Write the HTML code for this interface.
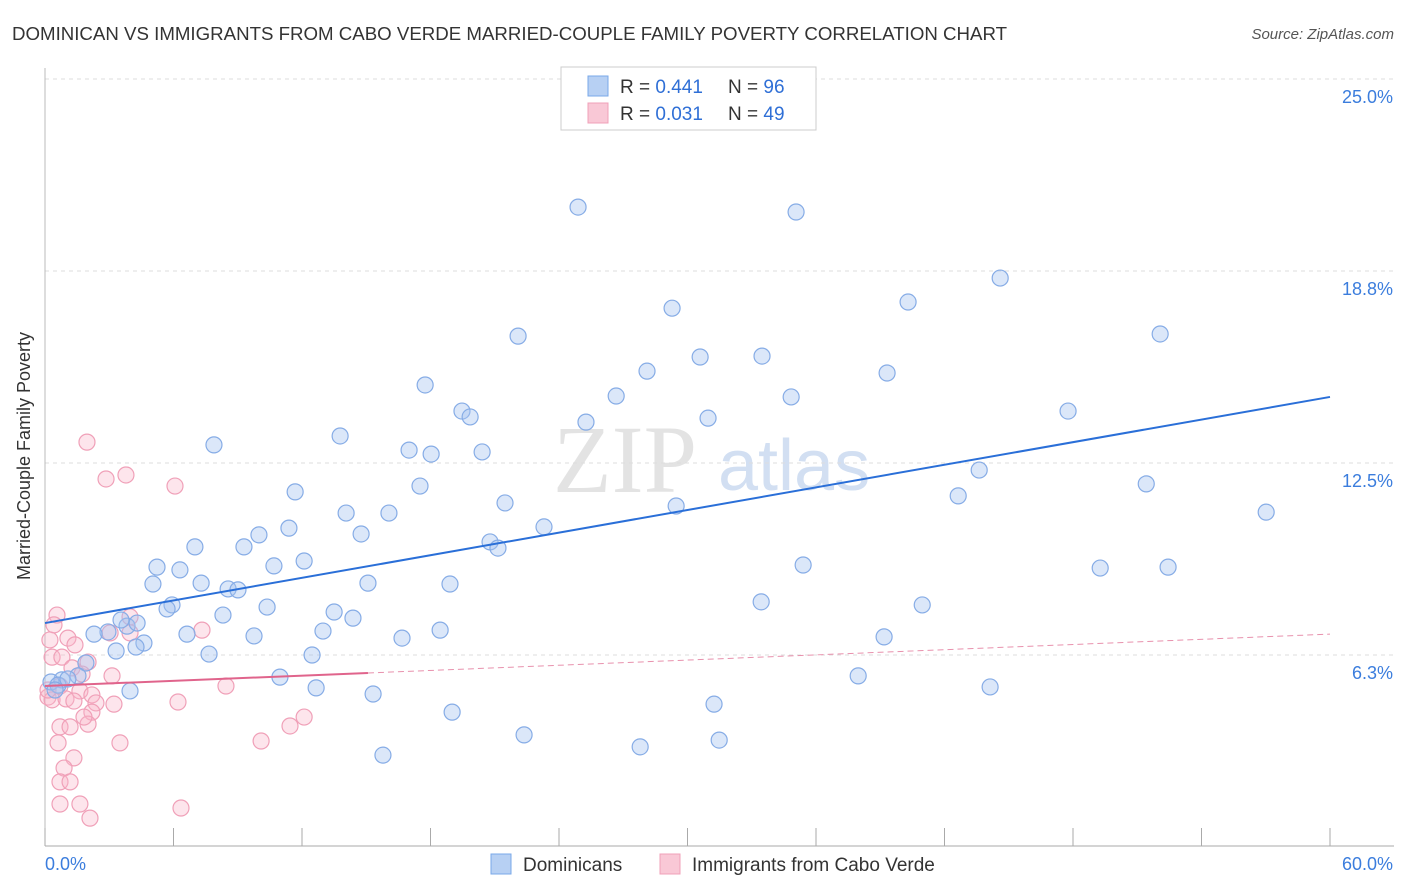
<!DOCTYPE html>
<html><head><meta charset="utf-8">
<style>
body{margin:0;background:#fff;font-family:"Liberation Sans",sans-serif;}
#wrap{position:relative;width:1406px;height:892px;overflow:hidden;}
</style></head><body>
<div id="wrap">
<svg id="svg" width="1406" height="892" xmlns="http://www.w3.org/2000/svg">
<text x="12" y="40" font-size="18" fill="#333" textLength="995" lengthAdjust="spacingAndGlyphs">DOMINICAN VS IMMIGRANTS FROM CABO VERDE MARRIED-COUPLE FAMILY POVERTY CORRELATION CHART</text>
<text x="1394" y="39" font-size="15" fill="#555" font-style="italic" text-anchor="end">Source: ZipAtlas.com</text>
<text x="30" y="456" font-size="18" fill="#333" text-anchor="middle" transform="rotate(-90 30 456)">Married-Couple Family Poverty</text>
<g><text x="553" y="492" font-size="96" fill="#ddd" font-family="Liberation Serif,serif" opacity="0.8">ZIP</text><text x="718" y="490" font-size="72" fill="#c7d8f0" opacity="0.8">atlas</text></g>
<g id="grid"></g><g id="axes"></g><g id="marks"></g>
<g>
<rect x="561" y="67" width="255" height="63" fill="#fff" stroke="#ccc"/>
<rect x="588" y="76" width="20" height="20" fill="#b7d0f3" stroke="#7aa8e8"/>
<text x="620" y="93" font-size="19" fill="#333">R = <tspan fill="#2f6fd6">0.441</tspan></text>
<text x="728" y="93" font-size="19" fill="#333">N = <tspan fill="#2f6fd6">96</tspan></text>
<rect x="588" y="103" width="20" height="20" fill="#f9c8d6" stroke="#f0a0b8"/>
<text x="620" y="120" font-size="19" fill="#333">R = <tspan fill="#2f6fd6">0.031</tspan></text>
<text x="728" y="120" font-size="19" fill="#333">N = <tspan fill="#2f6fd6">49</tspan></text>
</g>
<g>
<rect x="491" y="854" width="20" height="20" fill="#b7d0f3" stroke="#7aa8e8"/>
<text x="523" y="871" font-size="19" fill="#333">Dominicans</text>
<rect x="660" y="854" width="20" height="20" fill="#f9c8d6" stroke="#f0a0b8"/>
<text x="692" y="871" font-size="19" fill="#333">Immigrants from Cabo Verde</text>
</g>
</svg></div>
<script>
const blueX=[24.89,35.07,44.60,40.30,29.28,22.09,52.07,30.59,33.48,28.11,39.32,17.75,26.67,34.84,19.47,19.85,30.96,25.26,47.77,13.78,7.89,17.00,18.03,20.41,11.68,17.51,43.62,42.64,51.42,21.48,29.47,14.06,16.06,11.39,23.30,57.02,14.76,9.99,20.78,21.15,7.00,9.29,5.23,6.30,10.69,12.10,35.40,49.27,52.44,5.04,7.29,8.55,9.01,15.08,18.91,5.93,5.70,10.37,8.31,13.50,14.38,33.44,40.96,3.83,3.55,4.30,2.94,2.29,6.63,9.76,12.98,18.45,16.67,39.18,4.62,4.25,3.32,7.66,12.47,1.91,10.97,37.97,1.54,0.79,0.28,0.61,1.07,3.97,12.66,15.32,44.13,0.47,31.24,19.01,22.37,31.48,27.79,15.78];
const blueY=[20.83,20.67,18.52,17.74,17.54,16.63,16.70,15.95,15.98,15.49,15.43,15.04,14.68,14.65,14.19,14.00,13.96,13.83,14.19,13.38,13.09,12.92,12.79,12.86,11.56,11.75,12.27,11.43,11.82,11.20,11.10,10.87,10.87,10.38,10.42,10.90,10.19,10.16,9.93,9.73,9.77,9.77,9.11,9.02,9.15,9.31,9.18,9.08,9.11,8.56,8.59,8.40,8.37,8.59,8.56,7.88,7.75,7.81,7.55,7.65,7.45,7.98,7.88,7.19,7.39,7.29,7.00,6.93,6.93,6.87,7.03,7.06,6.80,6.84,6.64,6.51,6.38,6.28,6.25,5.99,5.53,5.57,5.57,5.44,5.37,5.27,5.47,5.08,5.18,4.98,5.21,5.11,4.65,4.39,3.65,3.48,3.26,2.99];
const pinkX=[0.56,0.42,3.97,1.07,3.04,3.97,7.33,1.40,0.33,0.79,2.01,1.26,1.73,3.13,0.70,1.63,2.19,0.14,0.33,0.98,1.35,2.38,3.22,8.45,6.21,2.19,2.01,1.82,12.10,11.44,0.70,1.17,3.50,0.61,10.09,1.35,0.89,0.70,1.17,0.70,1.63,2.10,6.35,1.96,2.85,3.78,6.07,0.23,0.14];
const pinkY=[7.55,7.23,7.49,6.80,6.97,6.97,7.06,6.58,6.18,6.18,6.02,5.83,5.63,5.57,5.24,5.08,4.95,4.88,4.79,4.82,4.75,4.69,4.65,5.24,4.72,4.39,4.00,4.23,4.23,3.94,3.91,3.91,3.39,3.39,3.45,2.90,2.57,2.12,2.12,1.40,1.40,0.94,1.27,13.18,11.98,12.11,11.75,6.74,5.11];
const blueTrend=[7.29,14.65];
const pinkTrend=[5.24,6.93];
const pinkSolidEnd=15.08;
const yTicks=[6.25,12.5,18.75,25];
const yTickLabels=["6.3%","12.5%","18.8%","25.0%"];
const xTicks=[0,6,12,18,24,30,36,42,48,54,60];

const NS="http://www.w3.org/2000/svg";
const X=v=>45+v/60*1285, Y=v=>847-v/6.25*192;
function mk(p,tag,a){const e=document.createElementNS(NS,tag);for(const k in a)e.setAttribute(k,a[k]);p.appendChild(e);return e;}
const grid=document.getElementById('grid'),axes=document.getElementById('axes'),marks=document.getElementById('marks');
yTicks.forEach((t,i)=>{
 const l=mk(grid,'line',{x1:45,x2:1394,y1:Y(t),y2:Y(t),stroke:'#ddd','stroke-dasharray':'4 4'});
 
 
 const tx=mk(axes,'text',{x:1393,y:Y(t)+24,'font-size':18,fill:'#3b7ddd','text-anchor':'end'});
 tx.textContent=yTickLabels[i];
 
 
});
const ax=mk(axes,'line',{x1:45,x2:1394,y1:846,y2:846,stroke:'#aaa'});


const ay=mk(axes,'line',{x1:45,x2:45,y1:68,y2:846,stroke:'#bbb'});


xTicks.forEach(t=>{
 const l=mk(axes,'line',{x1:X(t),x2:X(t),y1:828,y2:846,stroke:'#aaa'});
 
 
});
const xl0=mk(axes,'text',{x:45,y:870,'font-size':18,fill:'#3b7ddd'});xl0.textContent='0.0%';


const xl1=mk(axes,'text',{x:1393,y:870,'font-size':18,fill:'#3b7ddd','text-anchor':'end'});xl1.textContent='60.0%';


pinkX.forEach((v,i)=>{
 const c=mk(marks,'circle',{cx:X(v),cy:Y(pinkY[i]),r:8,fill:'rgba(248,180,200,0.35)',stroke:'#f0a0b8','stroke-width':1.2});
 
 
});
blueX.forEach((v,i)=>{
 const c=mk(marks,'circle',{cx:X(v),cy:Y(blueY[i]),r:8,fill:'rgba(165,196,240,0.4)',stroke:'#86ace6','stroke-width':1.2});
 
 
});
const bt=mk(marks,'line',{x1:X(0),y1:Y(blueTrend[0]),x2:X(60),y2:Y(blueTrend[1]),stroke:'#2a6fd8','stroke-width':2});


const pe=pinkTrend[0]+(pinkTrend[1]-pinkTrend[0])*pinkSolidEnd/60;
const pt=mk(marks,'line',{x1:X(0),y1:Y(pinkTrend[0]),x2:X(pinkSolidEnd),y2:Y(pe),stroke:'#e0648c','stroke-width':2});


const pd=mk(marks,'line',{x1:X(pinkSolidEnd),y1:Y(pe),x2:X(60),y2:Y(pinkTrend[1]),stroke:'#e891ad','stroke-width':1,'stroke-dasharray':'6 4'});


</script>
</body></html>
